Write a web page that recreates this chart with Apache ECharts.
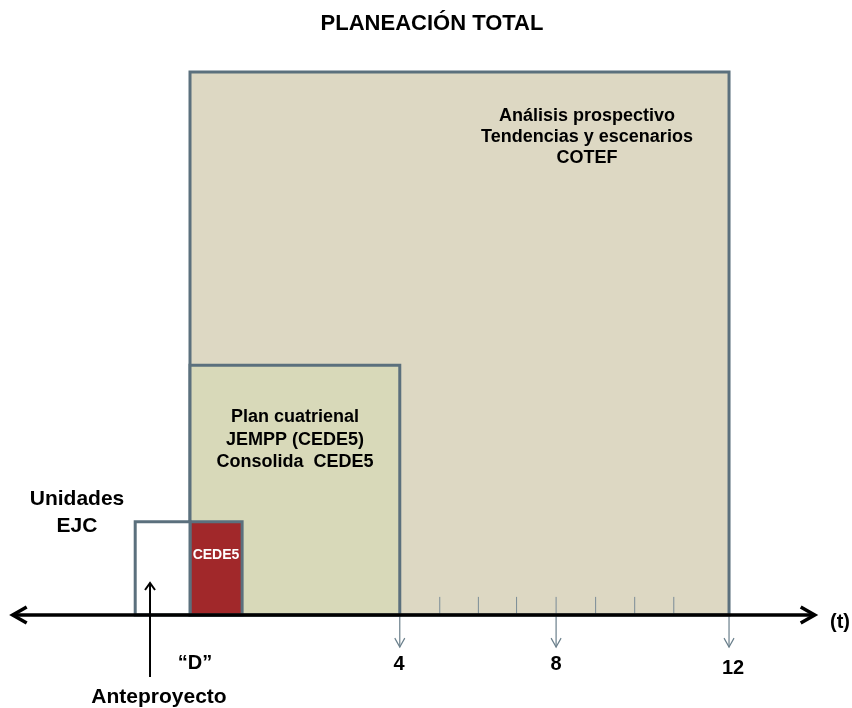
<!DOCTYPE html>
<html>
<head>
<meta charset="utf-8">
<script src="https://cdn.jsdelivr.net/npm/echarts@6/dist/echarts.min.js"></script>
<style>
html,body{margin:0;padding:0;background:#fff;}
#chart{width:852px;height:708px;}
</style>
</head>
<body>
<div id="chart"></div>
<script>
// Diagram units: x = time position (0 = "D"), y = planning scope height
const boxNames   = ['Análisis prospectivo', 'Plan cuatrienal', 'CEDE5', 'Unidades EJC'];
const boxStart   = [0, 0, 0, -1.22];
const boxEnd     = [12, 4.67, 1.16, 0];
const boxHeight  = [12, 5.52, 2.06, 2.06];

const tickPositions  = [5.56, 6.42, 7.27, 8.15, 9.03, 9.9, 10.77];
const periodMarks    = [4.67, 8.15, 12];
const periodLabels   = ['4', '8', '12'];
const timeAxisRange  = [-3.97, 13.93];
const anteproyecto   = [-0.89];   // x position of the up arrow

const FONT = "'Liberation Sans', Arial, sans-serif";
const BORDER = '#5b707d';
const boxFills = ['#ddd8c3', '#d8d9b9', '#a1282a', '#ffffff'];

const chart = echarts.init(document.getElementById('chart'), null, {renderer: 'canvas'});

const option = {
  animation: false,
  backgroundColor: '#ffffff',
  grid: {left: 10.33, top: 26.75, width: 831, height: 678.75},
  xAxis: {type: 'value', min: -4, max: 14.5, show: false},
  yAxis: {type: 'value', min: -2, max: 13, show: false},
  series: [
    {
      type: 'custom',
      name: 'boxes',
      z: 1,
      data: boxStart.map((s, i) => [s, boxEnd[i], boxHeight[i], i]),
      encode: {x: [0, 1], y: 2},
      renderItem: function (params, api) {
        const i = api.value(3);
        const p0 = api.coord([api.value(0), 0]);
        const p1 = api.coord([api.value(1), api.value(2)]);
        return {
          type: 'rect',
          shape: {x: p0[0], y: p1[1], width: p1[0] - p0[0], height: p0[1] - p1[1]},
          style: {fill: boxFills[i], stroke: BORDER, lineWidth: 3}
        };
      }
    },
    {
      type: 'custom',
      name: 'ticks',
      z: 2,
      data: tickPositions.map(v => [v]),
      encode: {x: 0},
      renderItem: function (params, api) {
        const a = api.coord([api.value(0), 0]);
        const b = api.coord([api.value(0), 0.4]);
        return {
          type: 'line',
          shape: {x1: a[0], y1: a[1], x2: b[0], y2: b[1]},
          style: {stroke: '#7a8c97', lineWidth: 1}
        };
      }
    },
    {
      type: 'custom',
      name: 'periods',
      z: 3,
      data: periodMarks.map((v, i) => [v, i]),
      encode: {x: 0},
      renderItem: function (params, api) {
        const a = api.coord([api.value(0), 0]);
        const b = api.coord([api.value(0), -0.71]);
        const c = '#6a7f8b';
        return {
          type: 'group',
          children: [
            {type: 'line', shape: {x1: a[0], y1: a[1], x2: b[0], y2: b[1]}, style: {stroke: c, lineWidth: 1.2}},
            {type: 'polyline', shape: {points: [[b[0] - 5, b[1] - 9], [b[0], b[1]], [b[0] + 5, b[1] - 9]]}, style: {stroke: c, lineWidth: 1.2, fill: null}}
          ]
        };
      }
    },
    {
      type: 'custom',
      name: 'timeAxis',
      z: 4,
      data: [timeAxisRange],
      encode: {x: [0, 1]},
      renderItem: function (params, api) {
        const a = api.coord([api.value(0), 0]);
        const b = api.coord([api.value(1), 0]);
        const st = {stroke: '#000', lineWidth: 3.5, fill: null, lineJoin: 'miter', lineCap: 'butt'};
        return {
          type: 'group',
          children: [
            {type: 'line', shape: {x1: a[0] + 2, y1: a[1], x2: b[0] - 2, y2: b[1]}, style: st},
            {type: 'polyline', shape: {points: [[a[0] + 15, a[1] - 8], [a[0] + 1, a[1]], [a[0] + 15, a[1] + 8]]}, style: st},
            {type: 'polyline', shape: {points: [[b[0] - 15, b[1] - 8], [b[0] - 1, b[1]], [b[0] - 15, b[1] + 8]]}, style: st}
          ]
        };
      }
    },
    {
      type: 'custom',
      name: 'anteproyecto',
      z: 5,
      data: anteproyecto.map(v => [v]),
      encode: {x: 0},
      renderItem: function (params, api) {
        const a = api.coord([api.value(0), -1.37]);
        const b = api.coord([api.value(0), 0.73]);
        const st = {stroke: '#000', lineWidth: 2, fill: null};
        return {
          type: 'group',
          children: [
            {type: 'line', shape: {x1: a[0], y1: a[1], x2: b[0], y2: b[1] + 1}, style: st},
            {type: 'polyline', shape: {points: [[b[0] - 5, b[1] + 8], [b[0], b[1] + 1], [b[0] + 5, b[1] + 8]]}, style: st}
          ]
        };
      }
    }
  ],
  graphic: {
    elements: [
      {type: 'text', x: 432, y: 24, z: 10, style: {text: 'PLANEACIÓN TOTAL', font: 'bold 22px ' + FONT, fill: '#000', textAlign: 'center', textVerticalAlign: 'middle'}},
      {type: 'text', x: 587, y: 137, z: 10, style: {text: 'Análisis prospectivo\nTendencias y escenarios\nCOTEF', font: 'bold 18px ' + FONT, lineHeight: 21, fill: '#000', textAlign: 'center', textVerticalAlign: 'middle'}},
      {type: 'text', x: 295, y: 440, z: 10, style: {text: 'Plan cuatrienal\nJEMPP (CEDE5)\nConsolida  CEDE5', font: 'bold 18px ' + FONT, lineHeight: 22.5, fill: '#000', textAlign: 'center', textVerticalAlign: 'middle'}},
      {type: 'text', x: 216, y: 555, z: 10, style: {text: 'CEDE5', font: 'bold 14px ' + FONT, fill: '#ffffff', textAlign: 'center', textVerticalAlign: 'middle'}},
      {type: 'text', x: 77, y: 513, z: 10, style: {text: 'Unidades\nEJC', font: 'bold 21px ' + FONT, lineHeight: 27, fill: '#000', textAlign: 'center', textVerticalAlign: 'middle'}},
      {type: 'text', x: 195, y: 663, z: 10, style: {text: '“D”', font: 'bold 20px ' + FONT, fill: '#000', textAlign: 'center', textVerticalAlign: 'middle'}},
      {type: 'text', x: 159, y: 697, z: 10, style: {text: 'Anteproyecto', font: 'bold 21px ' + FONT, fill: '#000', textAlign: 'center', textVerticalAlign: 'middle'}},
      {type: 'text', x: 399, y: 664, z: 10, style: {text: periodLabels[0], font: 'bold 20px ' + FONT, fill: '#000', textAlign: 'center', textVerticalAlign: 'middle'}},
      {type: 'text', x: 556, y: 664, z: 10, style: {text: periodLabels[1], font: 'bold 20px ' + FONT, fill: '#000', textAlign: 'center', textVerticalAlign: 'middle'}},
      {type: 'text', x: 733, y: 668, z: 10, style: {text: periodLabels[2], font: 'bold 20px ' + FONT, fill: '#000', textAlign: 'center', textVerticalAlign: 'middle'}},
      {type: 'text', x: 840, y: 622, z: 10, style: {text: '(t)', font: 'bold 20px ' + FONT, fill: '#000', textAlign: 'center', textVerticalAlign: 'middle'}}
    ]
  }
};

chart.setOption(option);
</script>
</body>
</html>
